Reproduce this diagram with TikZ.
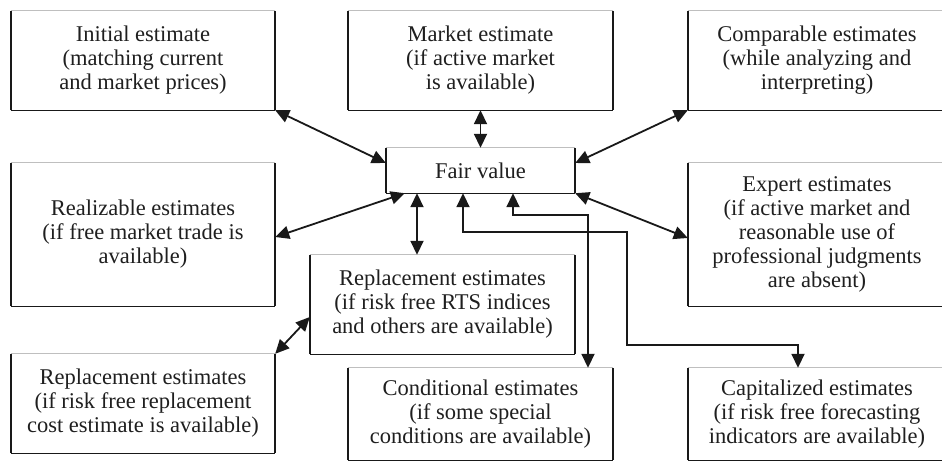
\documentclass[tikz,border=0pt]{standalone}
\usepackage{fontspec}
\setmainfont{Liberation Serif}
\usetikzlibrary{arrows.meta}
\tikzset{
  ebox/.style={inner sep=0pt, align=center, font=\fontsize{22.5}{24}\selectfont, text=black!88},
  topln/.style={line width=0.8pt, draw=black!25},
  sideln/.style={line width=1.8pt, draw=black!90},
  botln/.style={line width=1.3pt, draw=black!90},
  tip/.tip={Triangle[length=14pt,width=13pt]},
  conn/.style={line width=1.8pt, draw=black!90, tip-tip},
}
\newcommand\ebx[6]{%
  \node[ebox, minimum width={(#4-#2)*1pt}, minimum height={(#5-#3)*1pt}] (#1) at ({(#2+#4)/2},{(#3+#5)/2}) {#6};
  \draw[topln] (#1.north west) -- (#1.north east);
  \draw[botln] (#1.south west) -- (#1.south east);
  \draw[sideln] (#1.north west) -- (#1.south west);
  \draw[sideln] (#1.north east) -- (#1.south east);
}
\begin{document}
\begin{tikzpicture}[x=1pt,y=-1pt]
\clip (0,0) rectangle (942,465);
\fill[white] (0,0) rectangle (942,465);
\ebx{init}{11}{11}{275}{110}{Initial estimate\\(matching current\\and market prices)}
\ebx{mark}{348}{11}{613}{110}{Market estimate\\(if active market\\is available)}
\ebx{comp}{688}{11}{946}{110}{Comparable estimates\\(while analyzing and\\interpreting)}
\ebx{fair}{386}{148}{575}{193}{Fair value}
\ebx{real}{11}{163}{275}{306}{Realizable estimates\\(if free market trade is\\available)}
\ebx{expe}{688}{163}{946}{306}{Expert estimates\\(if active market and\\reasonable use of\\professional judgments\\are absent)}
\ebx{rts}{310}{255}{575}{354}{Replacement estimates\\(if risk free RTS indices\\and others are available)}
\ebx{repl}{11}{354}{275}{453}{Replacement estimates\\(if risk free replacement\\cost estimate is available)}
\ebx{cond}{348}{368}{613}{460}{Conditional estimates\\(if some special\\conditions are available)}
\ebx{capi}{688}{368}{946}{460}{Capitalized estimates\\(if risk free forecasting\\indicators are available)}
% connectors
\coordinate (vr) at (417,0);
\coordinate (vc1) at (513,0);
\coordinate (hc1) at (0,215);
\coordinate (vc2) at (588,0);
\coordinate (vk1) at (463,0);
\coordinate (hk1) at (0,232);
\coordinate (vk2) at (627,0);
\coordinate (hk2) at (0,345);
\coordinate (vk3) at (798,0);
\draw[conn] (init.south east) -- ([yshift=7.5pt]fair.west);
\draw[conn] (mark.south) -- (fair.north);
\draw[conn] (comp.south west) -- ([yshift=7.5pt]fair.east);
\draw[conn] ([yshift=-2.5pt]real.east) -- ([xshift=19pt]fair.south west);
\draw[conn] (fair.south east) -- ([yshift=-3.5pt]expe.west);
\draw[conn] (fair.south -| vr) -- (rts.north -| vr);
\draw[conn] (repl.north east) -- ([yshift=-12.5pt]rts.west);
\draw[conn] (fair.south -| vc1) -- (vc1 |- hc1) -- (vc2 |- hc1) -- (cond.north -| vc2);
\draw[conn] (fair.south -| vk1) -- (vk1 |- hk1) -- (vk2 |- hk1) -- (vk2 |- hk2) -- (vk3 |- hk2) -- (capi.north -| vk3);
\end{tikzpicture}
\end{document}
